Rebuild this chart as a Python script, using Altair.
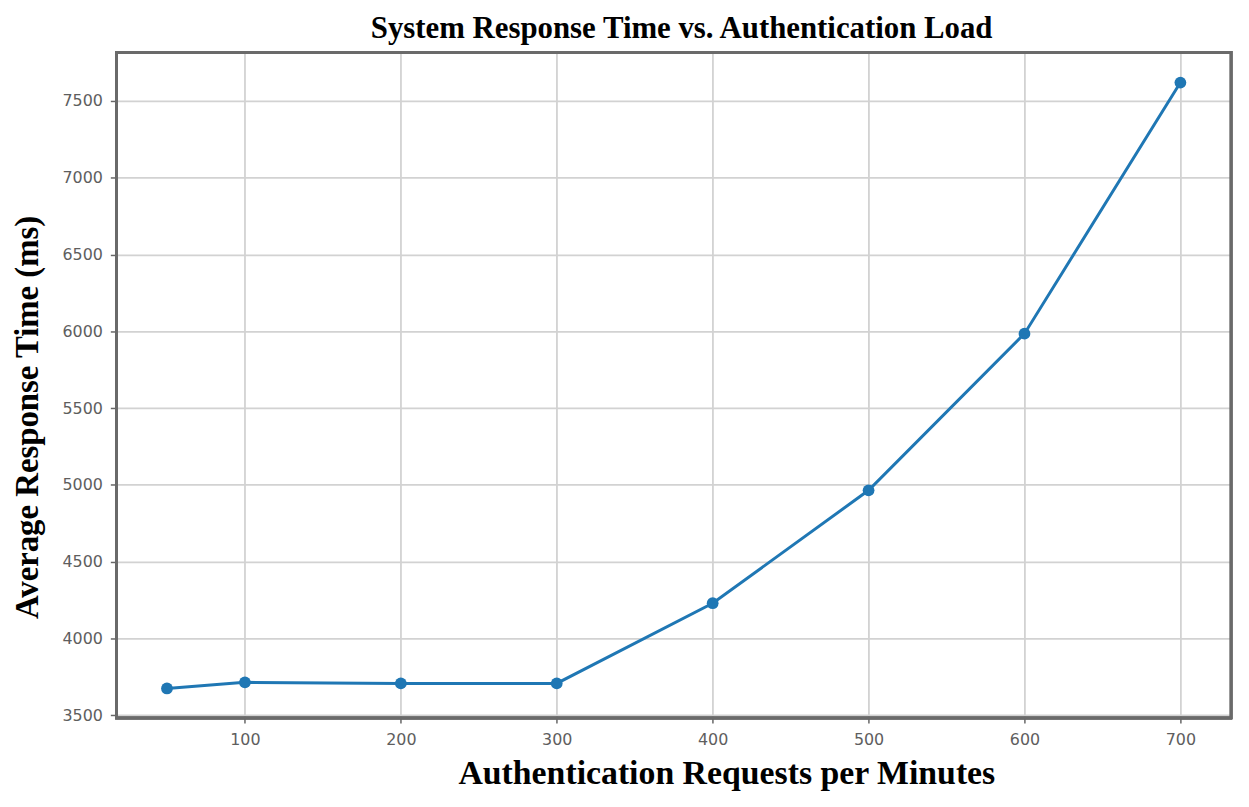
import altair as alt
import pandas as pd

requests = [50, 100, 200, 300, 400, 500, 600, 700]
response_ms = [3675, 3715, 3708, 3708, 4230, 4965, 5985, 7620]
x_ticks = [100, 200, 300, 400, 500, 600, 700]
y_ticks = [3500, 4000, 4500, 5000, 5500, 6000, 6500, 7000, 7500]

df = pd.DataFrame({"req": requests, "ms": response_ms})

x_enc = alt.X(
    "req:Q",
    scale=alt.Scale(domain=[17.5, 732.5], nice=False, zero=False),
    axis=alt.Axis(
        values=x_ticks,
        format="d",
        title="Authentication Requests per Minutes",
        titleFont="Liberation Serif",
        titleFontSize=34,
        titleFontWeight="bold",
        titleColor="#000000",
        titleX=614,
        titleY=56,
        titleBaseline="middle",
        titleAnchor="start",
        titleAlign="center",
        labelFont="DejaVu Sans",
        labelFontSize=16,
        labelColor="#5e5e5e",
        labelPadding=9,
        tickColor="#666666",
        tickSize=5,
        tickWidth=1.5,
        domain=False,
        gridColor="#d2d2d2",
        gridWidth=1.8,
    ),
)
y_enc = alt.Y(
    "ms:Q",
    scale=alt.Scale(domain=[3483, 7817], nice=False, zero=False),
    axis=alt.Axis(
        values=y_ticks,
        format="d",
        title="Average Response Time (ms)",
        titleFont="Liberation Serif",
        titleFontSize=33,
        titleFontWeight="bold",
        titleColor="#000000",
        titleX=-89,
        titleY=367,
        titleAngle=-90,
        titleAlign="center",
        titleBaseline="middle",
        labelFont="DejaVu Sans",
        labelFontSize=16,
        labelColor="#5e5e5e",
        labelPadding=8,
        tickColor="#666666",
        tickSize=6,
        tickWidth=1.5,
        domain=False,
        gridColor="#d2d2d2",
        gridWidth=1.8,
    ),
)

base = alt.Chart(df).encode(x=x_enc, y=y_enc)
line = base.mark_line(color="#1f77b4", strokeWidth=3)
pts = base.mark_circle(color="#1f77b4", size=140, opacity=1)

frame = alt.Chart(df).mark_rect(
    fill=None, fillOpacity=0, stroke="#6a6a6a", strokeWidth=2.4
).encode(
    x=alt.value(0), x2=alt.value(1122), y=alt.value(0), y2=alt.value(670)
)

chart = (
    alt.layer(line, pts, frame)
    .properties(
        width=1122,
        height=670,
        autosize=alt.AutoSizeParams(type="none"),
        padding={"left": 109, "top": 42, "right": 10, "bottom": 79},
        title=alt.TitleParams(
            "System Response Time vs. Authentication Load",
            font="Liberation Serif",
            fontSize=31,
            fontWeight="bold",
            color="#000000",
            anchor="middle",
            dx=8,
            offset=6,
        ),
    )
    .configure_view(stroke=None)
    .configure(background="#ffffff")
)

chart.save("out.html", embed_options={"renderer": "svg", "actions": False})
